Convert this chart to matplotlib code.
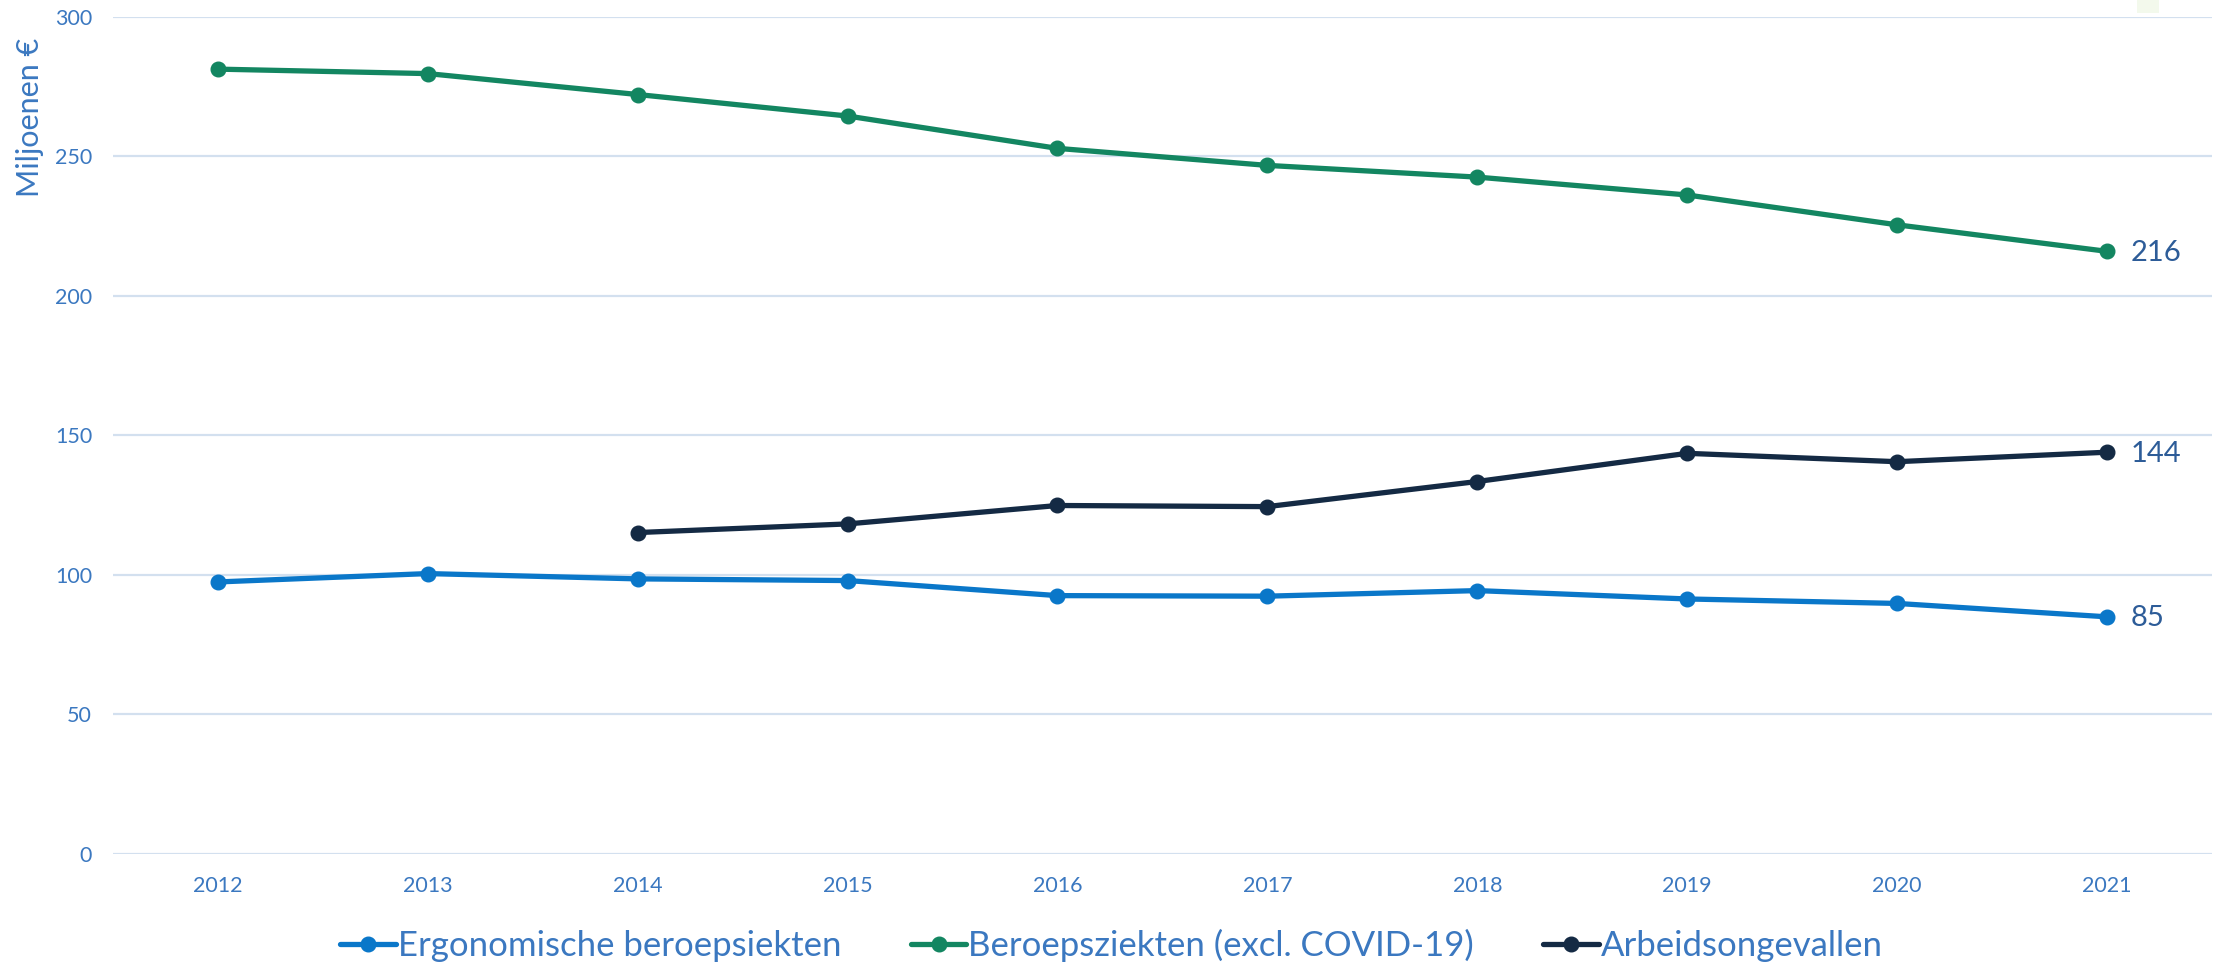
import numpy as np
import matplotlib
matplotlib.use('Agg')
import matplotlib.pyplot as plt
from matplotlib.patches import Rectangle

plt.rcParams['font.family'] = ['Lato', 'DejaVu Sans']

# data
years = [2012, 2013, 2014, 2015, 2016, 2017, 2018, 2019, 2020, 2021]
ergonomisch = [97.5, 100.5, 98.6, 98.0, 92.6, 92.4, 94.4, 91.4, 89.8, 85.0]
beroepsziekten = [281.3, 279.7, 272.2, 264.5, 252.9, 246.8, 242.6, 236.2, 225.5, 216.0]
ongevallen_years = [2014, 2015, 2016, 2017, 2018, 2019, 2020, 2021]
ongevallen = [115.2, 118.3, 124.9, 124.5, 133.5, 143.6, 140.6, 144.0]

series_names = ['Ergonomische beroepsiekten', 'Beroepsziekten (excl. COVID-19)', 'Arbeidsongevallen']
end_labels = ['85', '216', '144']

c_blue = '#0A77C9'
c_green = '#138661'
c_navy = '#142A44'
c_tick = '#3B78C0'
c_value = '#2D5C98'
c_grid = '#D3E0EF'

fig = plt.figure(figsize=(22.23, 9.69), dpi=100)
ax = fig.add_axes([0.0508, 0.1187, 0.9442, 0.8638])

lw = 3.8
ms = 10.5
lines = []
for xs, ys, col, name in [(years, ergonomisch, c_blue, series_names[0]),
                          (years, beroepsziekten, c_green, series_names[1]),
                          (ongevallen_years, ongevallen, c_navy, series_names[2])]:
    ln, = ax.plot(xs, ys, color=col, linewidth=lw, marker='o', markersize=ms,
                  label=name, solid_capstyle='round', zorder=3)
    lines.append(ln)

# value labels at the last point
for xs, ys, lab in [(years, ergonomisch, end_labels[0]),
                    (years, beroepsziekten, end_labels[1]),
                    (ongevallen_years, ongevallen, end_labels[2])]:
    ax.annotate(lab, (xs[-1], ys[-1]), xytext=(17, -1), textcoords='offset points',
                ha='left', va='center', fontsize=21, color=c_value)

ax.set_xlim(2011.5, 2021.5)
ax.set_ylim(0, 300)
ax.set_yticks(np.arange(0, 301, 50))
ax.set_xticks(years)
ax.set_xticklabels([str(y) for y in years])
ax.grid(axis='y', color=c_grid, linewidth=1.6)
ax.set_axisbelow(True)
for s in ax.spines.values():
    s.set_visible(False)
ax.tick_params(axis='both', length=0, labelsize=15.5, labelcolor=c_tick)
ax.tick_params(axis='x', pad=16)
ax.tick_params(axis='y', pad=15)

ax.set_ylabel('Miljoenen €', fontsize=22, color=c_tick, loc='top')
ax.yaxis.set_label_coords(-0.033, 0.975)

fig.legend(handles=lines, loc='center', bbox_to_anchor=(0.5, 0.024), ncol=3,
           frameon=False, fontsize=25, labelcolor=c_tick, handlelength=1.6,
           handletextpad=0.05, columnspacing=2.0, markerscale=1.0)

# faint patch in the top right corner
fig.patches.append(Rectangle((0.9615, 0.987), 0.0095, 0.013, transform=fig.transFigure,
                             facecolor='#F3F9EC', edgecolor='none'))

fig.savefig('out.png', dpi=100)
